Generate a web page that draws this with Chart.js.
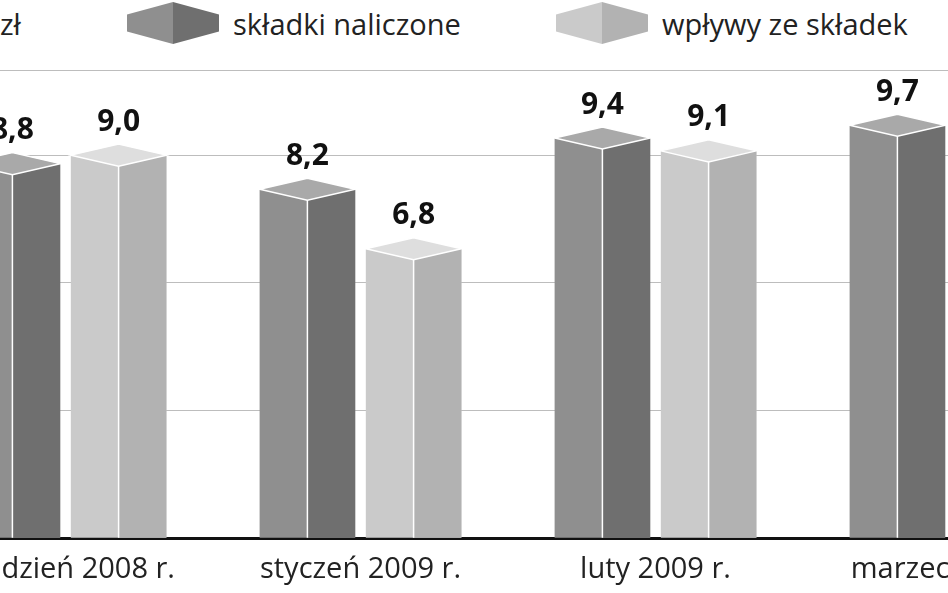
<!DOCTYPE html>
<html><head><meta charset="utf-8">
<script src="https://cdn.jsdelivr.net/npm/chart.js@4/dist/chart.umd.min.js"></script>
<style>
body{margin:0;width:948px;height:593px;overflow:hidden;background:#fff;font-family:"Open Sans",sans-serif;position:relative}
#wrap{position:absolute;left:-82px;top:70px;width:1180px;height:523px}
.leg{position:absolute;top:0;font-size:29px;color:#222;display:flex;align-items:center;white-space:nowrap}
.box{width:92px;height:42px;margin-right:14px;clip-path:polygon(0 30%,50% 0,100% 30%,100% 70%,50% 100%,0 70%)}
</style></head><body>
<div class="leg" style="left:0px;top:4px">zł</div>
<div class="leg" style="left:127px;top:2px"><div class="box" style="background:linear-gradient(90deg,#8f8f8f 50%,#6f6f6f 50%)"></div>składki naliczone</div>
<div class="leg" style="left:556px;top:2px"><div class="box" style="background:linear-gradient(90deg,#cacaca 50%,#b2b2b2 50%)"></div>wpływy ze składek</div>
<div id="wrap"><canvas id="c"></canvas></div>
<script>
const categories=["grudzień 2008 r.","styczeń 2009 r.","luty 2009 r.","marzec 2009 r."];
const naliczone=[8.8,8.2,9.4,9.7];
const wplywy=[9.0,6.8,9.1,9.5];
const faces=[["#8f8f8f","#6f6f6f","#a9a9a9"],["#cacaca","#b2b2b2","#dedede"]];
const prism={id:"prism",afterDatasetsDraw(ch){const g=ch.ctx;
ch.data.datasets.forEach((ds,di)=>{ch.getDatasetMeta(di).data.forEach((b,i)=>{
const l=b.x-b.width/2,r=b.x+b.width/2,t=b.y,h=11;
g.fillStyle=faces[di][1];g.fillRect(b.x,t,r-b.x,b.base-t);
g.strokeStyle="#fff";g.lineWidth=1.5;g.beginPath();g.moveTo(b.x,t);g.lineTo(b.x,b.base);g.stroke();
g.beginPath();g.moveTo(l,t);g.lineTo(b.x,t-h);g.lineTo(r,t);g.lineTo(b.x,t+h);g.closePath();
g.fillStyle=faces[di][2];g.fill();g.stroke();
g.fillStyle="#111";g.font="bold 30px 'Open Sans'";g.textAlign="center";g.textBaseline="bottom";
g.fillText(ds.data[i].toFixed(1).replace(".",","),b.x,t-18);});});}};
new Chart(document.getElementById("c"),{type:"bar",
data:{labels:categories,datasets:[
{data:naliczone,backgroundColor:faces[0][0]},
{data:wplywy,backgroundColor:faces[1][0]}]},
options:{responsive:true,maintainAspectRatio:false,animation:false,
layout:{padding:0},
plugins:{legend:{display:false},tooltip:{enabled:false}},
datasets:{bar:{categoryPercentage:0.72,barPercentage:0.9}},
scales:{y:{min:0,max:11,ticks:{display:false,stepSize:3},border:{display:false},grid:{color:"#bdbdbd",lineWidth:1,drawTicks:false}},
x:{grid:{display:false},border:{color:"#111",width:3},ticks:{color:"#222",font:{size:29,family:"Open Sans"},padding:6}}}},
plugins:[prism]});
</script></body></html>
